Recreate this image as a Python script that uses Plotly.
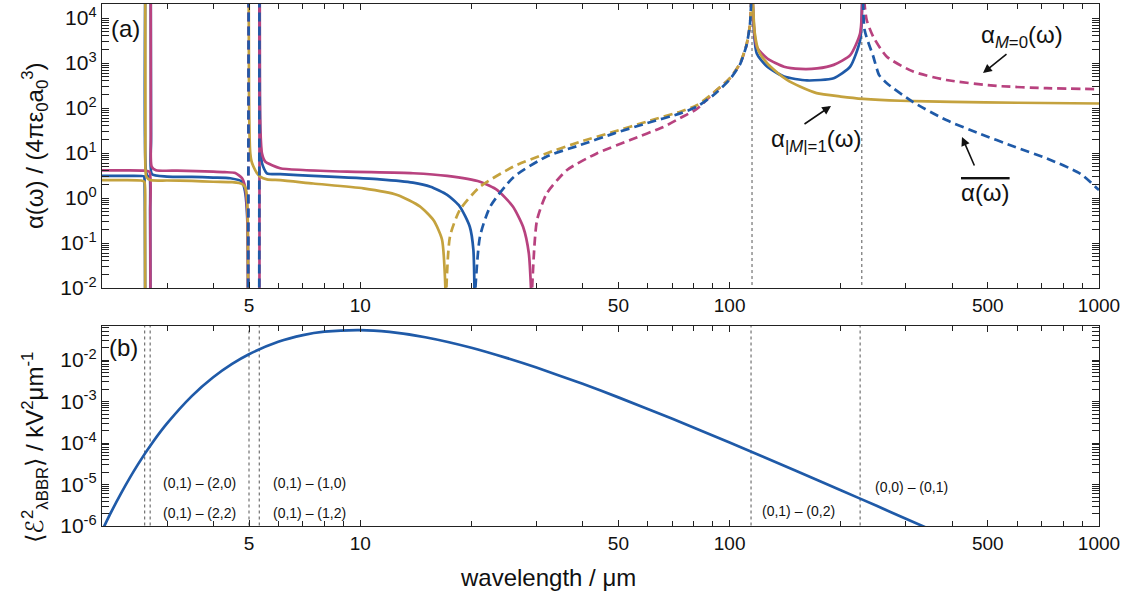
import math
import plotly.graph_objects as go

# ---------------- data ----------------
# wavelengths in micrometres, polarizabilities in units of 4*pi*eps0*a0^3
# None separates branches (poles / zero crossings)

# |M|=1 component (gold)
gold_solid_x = [2.0, 2.3, 2.55, 2.605, 2.615, 2.618, None,
                2.6185, 2.621, 2.635, 2.7, 3.0, 3.5, 4.0, 4.5, 4.7, 4.83, 4.9, 4.94, 4.962, 4.975, None,
                4.99, 5.0, 5.02, 5.04, 5.08, 5.14, 5.25, 5.36, 5.59, 6.07, 7.46, 10.2, 12.6, 14.5, 15.8, 16.65, 17.06, None,
                115.2, 117.0, 120.0, 126.5, 135, 143, 155, 172, 200, 230, 290, 400, 600, 1000]
gold_solid_y = [2.5, 2.5, 2.45, 2.3, 0.5, 0.005, None,
                5e4, 30, 3.0, 2.5, 2.45, 2.4, 2.3, 2.25, 2.15, 1.95, 1.6, 1.0, 0.3, 0.005, None,
                5e4, 200, 20, 9.8, 6.5, 5.0, 3.6, 3.0, 2.6, 2.5, 2.1, 1.64, 1.17, 0.65, 0.32, 0.12, 0.005, None,
                5e4, 4600, 1800, 980, 600, 420, 300, 214, 180, 160, 145, 137, 131, 126]
gold_dash_x = [17.06, 17.5, 18.6, 21.1, 26.0, 31.9, 39.4, 48.5, 59.7, 73.5, 81.5, 90.5, 100.3, 106.8, 111, 113.5, 114.8]
gold_dash_y = [0.005, 0.14, 0.54, 1.78, 5.0, 9.8, 17.8, 29.5, 50, 83, 115, 220, 470, 1000, 2500, 7000, 5e4]

# M=0 component (magenta)
mag_solid_x = [2.0, 2.3, 2.6, 2.69, 2.702, 2.706, None,
               2.7095, 2.712, 2.725, 2.8, 3.2, 3.6, 4.0, 4.3, 4.59, 4.79, 4.88, 4.93, 4.96, 4.972, None,
               5.337, 5.3375, None,
               5.345, 5.35, 5.37, 5.42, 5.53, 6.07, 7.0, 9.22, 13.9, 17.2, 21.1, 23.5, 25.9, 27.6, 28.6, 29.1, None,
               115.2, 118.4, 126.5, 140.4, 155.6, 172.5, 191.3, 212.1, 225.6, 228.8]
mag_solid_y = [4.1, 4.1, 4.05, 3.8, 0.5, 0.005, None,
               5e4, 30, 5, 4.15, 4.05, 3.95, 3.85, 3.75, 3.6, 2.75, 1.78, 0.8, 0.2, 0.005, None,
               0.005, 5e4, None,
               5e4, 200, 30, 9.8, 6.5, 4.6, 4.2, 3.85, 3.55, 3.1, 2.3, 1.5, 0.65, 0.23, 0.06, 0.005, None,
               5e4, 2300, 1260, 830, 740, 760, 910, 1500, 4600, 5e4]
mag_dash_x = [4.972, 4.99, None,
              29.1, 30.1, 32.0, 36.3, 43.7, 53.8, 66.2, 73.5, 81.5, 90.4, 100.3, 106.8, 111, 113.5, 114.8, None,
              229.5, 235, 245, 266.5, 314, 386, 529, 722, 1000]
mag_dash_y = [0.005, 5e4, None,
              0.005, 0.32, 1.27, 4.2, 9.8, 19.5, 38, 60, 95, 214, 460, 980, 2400, 7000, 5e4, None,
              5e4, 9100, 3800, 1380, 645, 420, 310, 276, 263]

# orientation-averaged polarizability (blue)
blue_solid_x = [2.0, 2.3, 2.6, 2.605, 2.613, 2.617, None,
                2.6185, 2.63, 2.66, 2.69, 2.7, 2.705, None,
                2.7095, 2.715, 2.73, 3.0, 3.5, 4.0, 4.45, 4.79, 4.88, 4.93, 4.96, 4.972, None,
                5.345, 5.36, 5.42, 5.59, 6.07, 7.46, 11.3, 13.9, 15.5, 17.2, 18.6, 19.8, 20.25, 20.4, None,
                115.2, 118.4, 126.5, 140.4, 162, 191.3, 212, 225.6, 228.8]
blue_solid_y = [3.1, 3.1, 3.05, 2.9, 0.5, 0.005, None,
                5e4, 4, 3.05, 2.95, 0.5, 0.005, None,
                5e4, 20, 3.4, 3.0, 2.95, 2.85, 2.75, 2.3, 1.37, 0.6, 0.15, 0.005, None,
                5e4, 30, 6, 3.55, 3.4, 3.1, 2.6, 2.2, 1.78, 1.17, 0.65, 0.23, 0.07, 0.005, None,
                5e4, 1650, 830, 500, 410, 460, 830, 3200, 5e4]
blue_dash_x = [4.975, 4.99, None, 5.33, 5.337, None,
               20.4, 21.1, 22.5, 26.0, 31.9, 39.4, 48.5, 59.7, 73.5, 81.5, 90.5, 100.3, 106.8, 111, 113.5, 114.8, None,
               229.5, 232, 245, 254, 266.5, 314, 386, 475, 588, 722, 889, 1000]
blue_dash_y = [0.005, 5e4, None, 0.005, 5e4, None,
               0.005, 0.14, 0.65, 2.9, 8.3, 15, 27, 46, 76, 107, 195, 440, 950, 2400, 7000, 5e4, None,
               5e4, 5400, 1380, 540, 355, 135, 54, 27, 14, 7.6, 3.5, 1.5]

# black-body radiation spectral field (kV^2 / um) at room temperature
bbr_x = [2.0, 2.1, 2.25, 2.5, 2.75, 3.0, 3.5, 4.0, 4.5, 5.0, 6.0, 7.0, 8.0, 10, 12, 15, 20, 25, 30, 40,
         50, 70, 100, 150, 200, 250, 300, 350]
bbr_y = [7.6e-7, 1.87e-6, 6.05e-6, 3.01e-5, 1.07e-4, 2.96e-4, 1.35e-3, 3.84e-3, 8.05e-3, 1.38e-2,
         2.75e-2, 3.99e-2, 4.82e-2, 5.27e-2, 4.76e-2, 3.55e-2, 1.98e-2, 1.11e-2, 6.59e-3, 2.67e-3,
         1.26e-3, 3.82e-4, 1.03e-4, 2.21e-5, 7.3e-6, 3.06e-6, 1.50e-6, 8.2e-7]

# transition wavelengths (dashed markers)
trans_top = [115, 228]
trans_bottom = [2.61, 2.70, 5.0, 5.33, 114.3, 225.6]
trans_labels = ["(0,1) – (2,0)", "(0,1) – (2,2)", "(0,1) – (1,0)", "(0,1) – (1,2)",
                "(0,1) – (0,2)", "(0,0) – (0,1)"]

x_label_vals = [5, 10, 50, 100, 500, 1000]
top_decades = [-2, -1, 0, 1, 2, 3, 4]
bot_decades = [-6, -5, -4, -3, -2]

# ---------------- styling ----------------
MAGENTA = "#B8427F"
BLUE = "#1F5AA8"
GOLD = "#C4A23E"
FONT = "Liberation Sans, Arial, Helvetica, sans-serif"
LW = 2.7
DASH = "9px,5px"

fig = go.Figure()

def add(x, y, color, dash, xa="x", ya="y"):
    fig.add_trace(go.Scatter(x=x, y=y, mode="lines", xaxis=xa, yaxis=ya,
                             line=dict(color=color, width=LW, dash=dash, shape="spline", smoothing=0.6),
                             connectgaps=False, showlegend=False, hoverinfo="skip"))

# grey transition markers (drawn first)
for w in trans_top:
    fig.add_trace(go.Scatter(x=[w, w], y=[1e-3, 1e5], mode="lines", xaxis="x", yaxis="y",
                             line=dict(color="#555555", width=1, dash="3px,3px"),
                             showlegend=False, hoverinfo="skip"))
for w in trans_bottom:
    fig.add_trace(go.Scatter(x=[w, w], y=[1e-7, 1], mode="lines", xaxis="x2", yaxis="y2",
                             line=dict(color="#555555", width=1, dash="3px,3px"),
                             showlegend=False, hoverinfo="skip"))

add(blue_solid_x, blue_solid_y, BLUE, "solid")
add(mag_solid_x, mag_solid_y, MAGENTA, "solid")
add(gold_solid_x, gold_solid_y, GOLD, "solid")
add(mag_dash_x, mag_dash_y, MAGENTA, DASH)
add(gold_dash_x, gold_dash_y, GOLD, DASH)
add(blue_dash_x, blue_dash_y, BLUE, DASH)
add(bbr_x, bbr_y, BLUE, "solid", "x2", "y2")

# ---------------- axes ----------------
x_all = [m * 10 ** k for k in range(0, 3) for m in range(1, 10)] + [1000]
x_minor = [v for v in x_all if v >= 2 and v not in x_label_vals]
XR = [math.log10(2.0), 3.0]

def ydec(decs):
    vals = [10.0 ** d for d in decs]
    txt = ["10<sup>%d</sup>" % d for d in decs]
    minor = [m * 10.0 ** d for d in decs for m in range(2, 10)]
    return vals, txt, minor

common_x = dict(type="log", range=XR,
                tickvals=x_label_vals, ticktext=[str(v) for v in x_label_vals],
                ticks="inside", ticklen=6, tickwidth=1, tickcolor="#222",
                showline=True, linecolor="#222", linewidth=1.3, mirror="allticks",
                showgrid=False, zeroline=False, automargin=False,
                tickfont=dict(family=FONT, size=19, color="#111"))
# unlabeled minor x ticks on overlaying axes (no label text)
minor_x = dict(type="log", range=XR, tickvals=x_minor, ticks="inside", ticklen=5, tickwidth=1,
               tickcolor="#222", showticklabels=False, showline=False, mirror="allticks",
               showgrid=False, zeroline=False, automargin=False)
tv, tt, tm = ydec(top_decades)
bv, bt, bm = ydec(bot_decades)
common_y = dict(type="log", ticks="inside", ticklen=7, tickwidth=1, tickcolor="#222",
                showline=True, linecolor="#222", linewidth=1.3, mirror="allticks",
                showgrid=False, zeroline=False, automargin=False,
                tickfont=dict(family=FONT, size=21, color="#111"))

fig.update_layout(
    width=1128, height=597,
    margin=dict(l=102, r=29, t=4, b=71, autoexpand=False),
    paper_bgcolor="white", plot_bgcolor="white",
    xaxis=dict(domain=[0, 1], anchor="y", **common_x),
    yaxis=dict(domain=[0.4559, 1.0], anchor="x", range=[-2, math.log10(2.05e4)],
               tickvals=tv, ticktext=tt,
               minor=dict(tickvals=tm, ticks="inside", ticklen=3.5, tickcolor="#222"),
               **common_y),
    xaxis2=dict(domain=[0, 1], anchor="y2", **common_x),
    yaxis2=dict(domain=[0, 0.3831], anchor="x2", range=[-6, -1.18],
                tickvals=bv, ticktext=bt,
                minor=dict(tickvals=bm, ticks="inside", ticklen=3.5, tickcolor="#222"),
                **common_y),
    xaxis3=dict(overlaying="x", anchor="y", side="bottom", **minor_x),
    xaxis4=dict(overlaying="x2", anchor="y2", side="bottom", **minor_x),
    font=dict(family=FONT, color="#111"),
)

# invisible helper traces so the minor-tick axes are rendered
fig.add_trace(go.Scatter(x=[x_minor[0]], y=[1.0], xaxis="x3", yaxis="y", mode="markers",
                         marker=dict(opacity=0), showlegend=False, hoverinfo="skip"))
fig.add_trace(go.Scatter(x=[x_minor[0]], y=[1e-3], xaxis="x4", yaxis="y2", mode="markers",
                         marker=dict(opacity=0), showlegend=False, hoverinfo="skip"))

def px(xp, yp):
    return (xp - 102) / 997.0, (526 - yp) / 522.0

ann = []
def text(xp, yp, s, size, angle=0):
    X, Y = px(xp, yp)
    ann.append(dict(x=X, y=Y, xref="paper", yref="paper", text=s, showarrow=False,
                    textangle=angle, xanchor="center", yanchor="middle",
                    font=dict(family=FONT, size=size, color="#111")))

def arrow(hx, hy, tx, ty):
    X, Y = px(hx, hy)
    ann.append(dict(x=X, y=Y, xref="paper", yref="paper", text="", showarrow=True,
                    ax=tx - hx, ay=ty - hy, arrowhead=2, arrowsize=1.1, arrowwidth=1.6,
                    arrowcolor="#111"))

text(125, 29, "(a)", 24)
text(123, 347, "(b)", 24)
text(1022, 37, "α<sub><i>M</i>=0</sub>(ω)", 24)
text(816, 140, "α<sub>|<i>M</i>|=1</sub>(ω)", 24)
text(985, 192, "<span style='text-decoration:overline'>α(ω)</span>", 24)
arrow(983, 73, 1008, 53)
arrow(831, 106, 803, 125)
arrow(962, 137, 975, 167)

label_pos = [(199, 483), (199, 513), (309, 483), (309, 513), (798, 511), (911, 487)]
for (xp, yp), s in zip(label_pos, trans_labels):
    text(xp, yp, s, 14)

text(35, 146, "α(ω) / (4πε<sub>0</sub>a<sub>0</sub><sup>3</sup>)", 24, -90)
text(35, 448, "⟨ℰ<sup>2</sup><sub>λBBR</sub>⟩ / kV<sup>2</sup>μm<sup>-1</sup>", 24, -90)
text(548, 577, "wavelength / μm", 24)

fig.update_layout(annotations=ann)
fig.write_html("out.html", config={"displayModeBar": False},
               post_script="document.body.style.margin='0px';")
